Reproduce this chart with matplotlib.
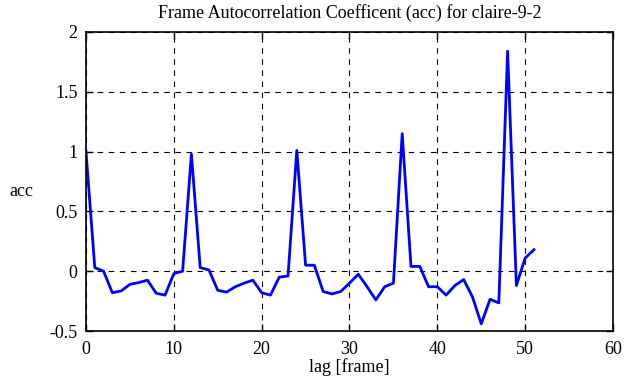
import matplotlib
matplotlib.use("Agg")
import matplotlib.pyplot as plt
import numpy as np

# values
lag = np.arange(0, 52)
acc = [1.0, 0.03, 0.0, -0.18, -0.165, -0.11, -0.095, -0.075, -0.185, -0.2,
       -0.02, 0.0, 0.98, 0.03, 0.01, -0.16, -0.175, -0.13, -0.1, -0.075,
       -0.18, -0.2, -0.05, -0.04, 1.01, 0.05, 0.05, -0.17, -0.19, -0.17,
       -0.1, -0.025, -0.13, -0.24, -0.13, -0.1, 1.15, 0.04, 0.04, -0.13,
       -0.13, -0.2, -0.12, -0.07, -0.215, -0.44, -0.235, -0.265, 1.84, -0.12,
       0.11, 0.18]

x_ticks = [0, 10, 20, 30, 40, 50, 60]
y_ticks = [-0.5, 0, 0.5, 1, 1.5, 2]
y_labels = ["-0.5", "0", "0.5", "1", "1.5", "2"]

plt.rcParams['font.family'] = ['Liberation Serif', 'DejaVu Serif']
plt.rcParams['font.size'] = 13

fig = plt.figure(figsize=(6.25, 3.87), dpi=100)
ax = fig.add_axes([86 / 625, 1 - 331 / 387, (613 - 86) / 625, (331 - 32) / 387])

ax.plot(lag, acc, color='#0000ff', linewidth=2)

ax.set_xlim(0, 60)
ax.set_ylim(-0.5, 2)
ax.set_xticks(x_ticks)
ax.set_yticks(y_ticks)
ax.set_yticklabels(y_labels)
ax.grid(True, color='black', linestyle=(0, (5, 5)), linewidth=0.8)
ax.tick_params(direction='in', top=True, right=True, length=5, width=1, labelsize=13)
ax.tick_params(axis='x', pad=7)
ax.tick_params(axis='y', pad=6)
for s in ax.spines.values():
    s.set_linewidth(1.2)

ax.set_xlabel('lag [frame]', fontsize=13, labelpad=0)
ax.set_ylabel('acc', fontsize=13, rotation=0, ha='center', va='center')
ax.yaxis.set_label_coords(-0.122, 0.465)
ax.set_title('Frame Autocorrelation Coefficent (acc) for claire-9-2', fontsize=13, pad=10)

fig.savefig('out.png', dpi=100)
